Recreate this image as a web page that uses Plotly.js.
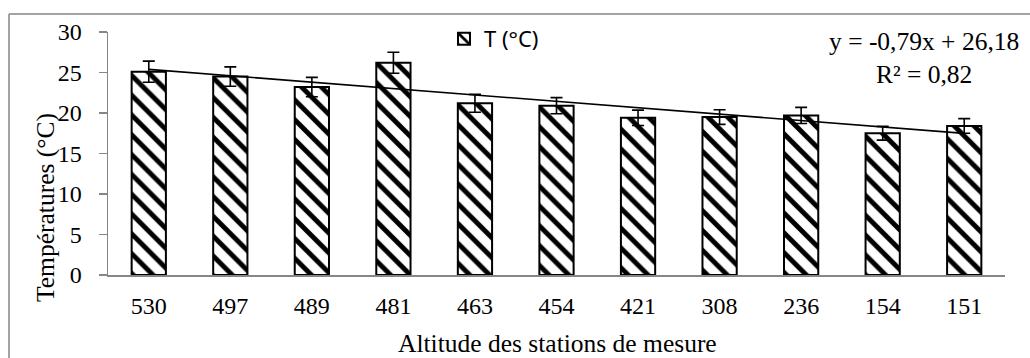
<!DOCTYPE html>
<html>
<head>
<meta charset="utf-8">
<script src="https://cdn.plot.ly/plotly-3.0.1.min.js"></script>
<style>html,body{margin:0;padding:0;background:#fff;}#chart{width:1030px;height:358px;}</style>
</head>
<body>
<div id="chart"></div>
<script>
// Data
const altitudes = ["530", "497", "489", "481", "463", "454", "421", "308", "236", "154", "151"];
const temperatures = [25.1, 24.5, 23.2, 26.2, 21.2, 20.9, 19.4, 19.5, 19.7, 17.5, 18.4];
const errors = [1.3, 1.2, 1.2, 1.3, 1.1, 1.0, 0.95, 0.9, 1.0, 0.85, 0.9];
const trendEnds = [25.39, 17.49]; // linear trend at first and last station
const equationText = "y = -0,79x + 26,18<br>R² = 0,82";
const seriesName = "T (°C)";
const yTitle = "Températures (°C)";
const xTitle = "Altitude des stations de mesure";

const W = 1030, H = 358;
const L = 108, R = 25, T = 32, B = 83;
const pw = W - L - R, ph = H - T - B;
const px = x => (x - L) / pw;
const py = y => (H - B - y) / ph;

const serif = "Liberation Serif, Times New Roman, serif";
const grey = "#868686";

const traces = [
  {
    type: "bar",
    x: altitudes,
    y: temperatures,
    name: seriesName,
    marker: {
      color: "white",
      line: {color: "black", width: 2},
      pattern: {shape: "\\", fgcolor: "black", bgcolor: "white", size: 14, solidity: 0.35}
    },
    error_y: {type: "data", array: errors, visible: true, color: "black", thickness: 1.6, width: 6},
    showlegend: true
  },
  {
    type: "scatter",
    mode: "lines",
    x: [altitudes[0], altitudes[altitudes.length - 1]],
    y: trendEnds,
    line: {color: "black", width: 1.6},
    showlegend: false,
    hoverinfo: "skip"
  }
];

const layout = {
  width: W, height: H,
  margin: {l: L, r: R, t: T, b: B, pad: 0},
  paper_bgcolor: "white",
  plot_bgcolor: "white",
  bargap: 0.58,
  showlegend: true,
  legend: {
    x: px(444), y: py(18), xanchor: "left", yanchor: "top",
    font: {family: "Noto Sans, Open Sans, sans-serif", size: 22, color: "black"},
    bgcolor: "rgba(0,0,0,0)", itemwidth: 30
  },
  xaxis: {
    type: "category",
    showline: true, linecolor: grey, linewidth: 1.5,
    ticks: "", showgrid: false, zeroline: false,
    tickfont: {family: serif, size: 24, color: "black"},
    ticklabelstandoff: 9
  },
  yaxis: {
    range: [0, 30], tickvals: [0, 5, 10, 15, 20, 25, 30],
    showline: true, linecolor: grey, linewidth: 1.5,
    ticks: "outside", ticklen: 8, tickcolor: grey, tickwidth: 1.5,
    showgrid: false, zeroline: false,
    tickfont: {family: serif, size: 24, color: "black"},
    ticklabelstandoff: 12
  },
  annotations: [
    {xref: "paper", yref: "paper", x: px(45), y: py(208), text: yTitle, textangle: -90,
     showarrow: false, font: {family: serif, size: 25.5, color: "black"}, xanchor: "center", yanchor: "middle"},
    {xref: "paper", yref: "paper", x: px(557), y: py(343), text: xTitle,
     showarrow: false, font: {family: serif, size: 25.5, color: "black"}, xanchor: "center", yanchor: "middle"},
    {xref: "paper", yref: "paper", x: px(924), y: py(58), text: equationText, align: "center",
     showarrow: false, font: {family: serif, size: 25.5, color: "black"}, xanchor: "center", yanchor: "middle"}
  ],
  shapes: [
    {type: "line", xref: "paper", yref: "paper", x0: px(9), x1: px(1032), y0: py(14), y1: py(14), line: {color: grey, width: 1.5}},
    {type: "line", xref: "paper", yref: "paper", x0: px(9), x1: px(9), y0: py(14), y1: py(360), line: {color: grey, width: 1.5}}
  ]
};

Plotly.newPlot("chart", traces, layout, {staticPlot: true, displayModeBar: false});
</script>
</body>
</html>
